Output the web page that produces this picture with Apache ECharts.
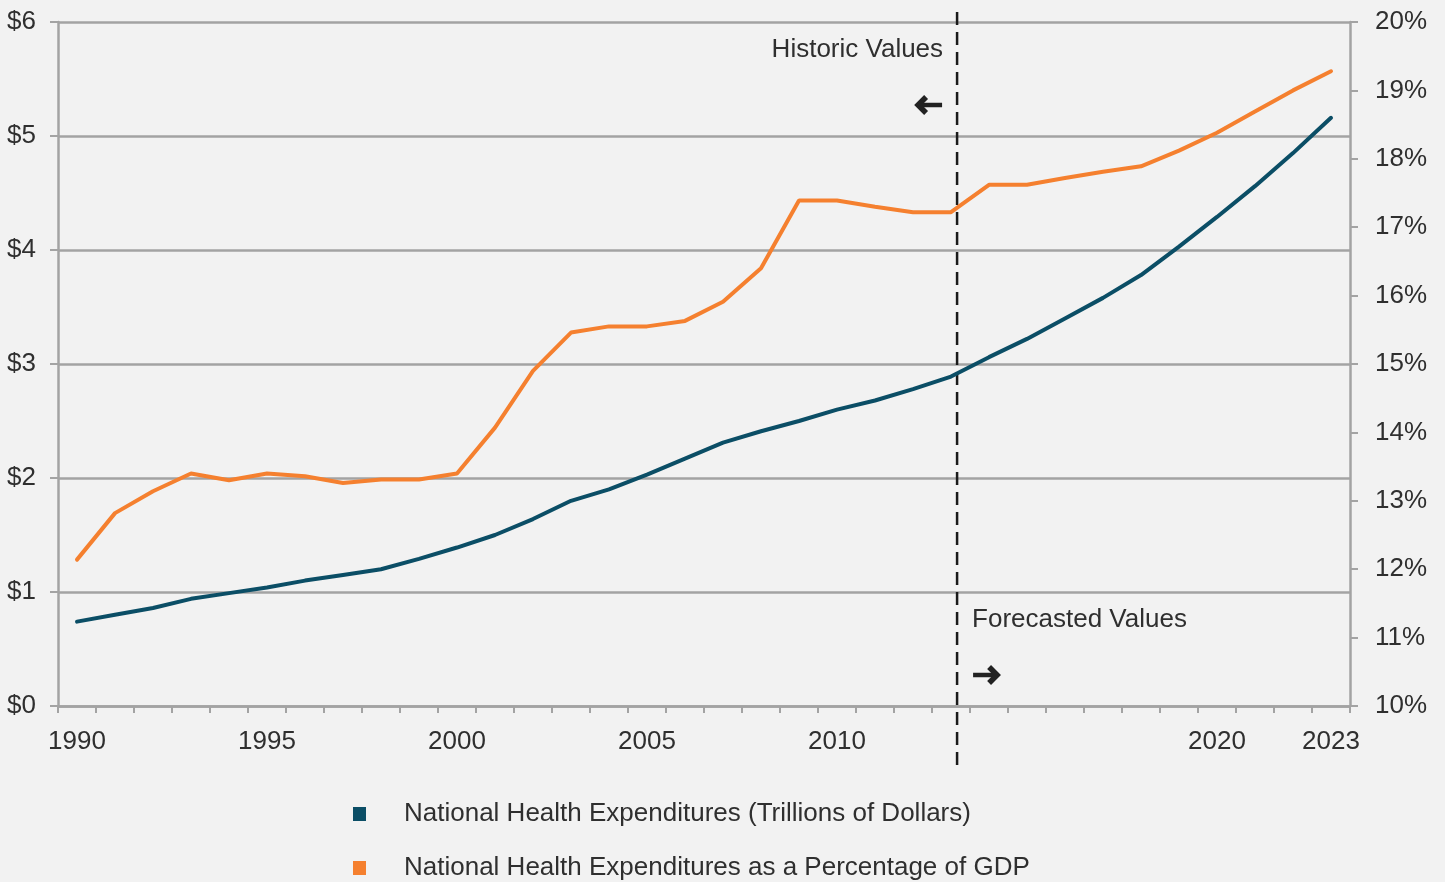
<!DOCTYPE html>
<html>
<head>
<meta charset="utf-8">
<style>
  html, body { margin: 0; padding: 0; background: #f2f2f2; }
  #chart { width: 1445px; height: 882px; }
</style>
<script src="https://cdn.jsdelivr.net/npm/echarts@6/dist/echarts.min.js"></script>
</head>
<body>
<div id="chart"></div>
<script>
const years = ['1990','1991','1992','1993','1994','1995','1996','1997','1998','1999',
  '2000','2001','2002','2003','2004','2005','2006','2007','2008','2009',
  '2010','2011','2012','2013','2014','2015','2016','2017','2018','2019',
  '2020','2021','2022','2023'];
const shownYearLabels = ['1990','1995','2000','2005','2010','2020','2023'];
const nheTrillions = [0.74,0.80,0.86,0.94,0.99,1.04,1.10,1.15,1.20,1.29,
  1.39,1.50,1.64,1.80,1.90,2.03,2.17,2.31,2.41,2.50,
  2.60,2.68,2.78,2.89,3.06,3.22,3.40,3.58,3.78,4.03,
  4.29,4.56,4.85,5.16];
const nhePctGdp = [12.14,12.82,13.14,13.40,13.30,13.40,13.36,13.26,13.31,13.31,
  13.40,14.07,14.90,15.46,15.55,15.55,15.63,15.91,16.40,17.39,
  17.39,17.30,17.22,17.22,17.62,17.62,17.72,17.81,17.89,18.12,
  18.38,18.69,19.00,19.28];
const seriesNames = ['National Health Expenditures (Trillions of Dollars)',
  'National Health Expenditures as a Percentage of GDP'];
const leftTicks = {min: 0, max: 6, interval: 1};
const rightTicks = {min: 10, max: 20, interval: 1};
const splitIndex = 23.16;

const FONT = '"Liberation Sans", Arial, Helvetica, sans-serif';
const FS = 26;
const TXT = '#2f2f2f';
const AX = '#a3a3a3';
const NAVY = '#0b4e66';
const ORANGE = '#f5802f';

function legendFor(name, top) {
  return {
    orient: 'horizontal', left: 353, top: top, padding: 0,
    itemWidth: 13, itemHeight: 14, icon: 'rect',
    textStyle: { fontSize: FS, color: TXT, fontFamily: FONT, padding: [0, 0, 0, 33] },
    data: [name]
  };
}

const chart = echarts.init(document.getElementById('chart'));
const option = {
  backgroundColor: '#f2f2f2',
  animation: false,
  textStyle: { fontFamily: FONT },
  grid: { left: 58, right: 95, top: 22, bottom: 176, containLabel: false },
  legend: [legendFor(seriesNames[0], 801), legendFor(seriesNames[1], 855)],
  xAxis: {
    type: 'category',
    data: years,
    boundaryGap: true,
    axisLine: { lineStyle: { color: AX, width: 2.5 } },
    axisTick: { show: true, interval: 0, length: 7, lineStyle: { color: AX, width: 2 } },
    axisLabel: {
      interval: 0,
      formatter: function (v) { return shownYearLabels.indexOf(v) >= 0 ? v : ''; },
      fontSize: FS, color: TXT, margin: 23, fontFamily: FONT
    },
    splitLine: { show: false }
  },
  yAxis: [
    {
      type: 'value', min: leftTicks.min, max: leftTicks.max, interval: leftTicks.interval,
      position: 'left',
      axisLine: { show: true, lineStyle: { color: AX, width: 2.5 } },
      axisTick: { show: true, length: 8, lineStyle: { color: AX, width: 2 } },
      axisLabel: { formatter: '${value}', fontSize: FS, color: TXT, margin: 22, fontFamily: FONT, padding: [6, 0, 0, 0] },
      splitLine: { show: true, lineStyle: { color: AX, width: 2.5 } }
    },
    {
      type: 'value', min: rightTicks.min, max: rightTicks.max, interval: rightTicks.interval,
      position: 'right',
      axisLine: { show: true, lineStyle: { color: AX, width: 2.5 } },
      axisTick: { show: true, length: 8, lineStyle: { color: AX, width: 2 } },
      axisLabel: { formatter: '{value}%', fontSize: FS, color: TXT, margin: 25, fontFamily: FONT, padding: [6, 0, 0, 0] },
      splitLine: { show: false }
    }
  ],
  series: [
    {
      name: seriesNames[0],
      type: 'line', yAxisIndex: 0, data: nheTrillions,
      symbol: 'none', lineStyle: { color: NAVY, width: 4, cap: 'round' }, itemStyle: { color: NAVY }
    },
    {
      name: seriesNames[1],
      type: 'line', yAxisIndex: 1, data: nhePctGdp,
      symbol: 'none', lineStyle: { color: ORANGE, width: 4, cap: 'round' }, itemStyle: { color: ORANGE }
    }
  ]
};
chart.setOption(option);

const x23 = chart.convertToPixel({ xAxisIndex: 0 }, 23);
const x24 = chart.convertToPixel({ xAxisIndex: 0 }, 24);
const sx = x23 + (splitIndex - 23) * (x24 - x23);
const yTop = chart.convertToPixel({ yAxisIndex: 0 }, 6) - 10;
const yBot = chart.convertToPixel({ yAxisIndex: 0 }, 0) + 59;

function arrow(cx, cy, dir) {
  const half = 12;
  const tipX = cx + dir * half;
  return [
    { type: 'line', shape: { x1: cx - dir * half, y1: cy, x2: tipX - dir * 3, y2: cy },
      style: { stroke: '#222', lineWidth: 4.5 } },
    { type: 'polyline', shape: { points: [[tipX - dir * 8, cy - 8], [tipX, cy], [tipX - dir * 8, cy + 8]] },
      style: { stroke: '#222', lineWidth: 5.5, fill: null, lineJoin: 'miter' } }
  ];
}

chart.setOption({
  graphic: [
    { type: 'line', shape: { x1: sx, y1: yTop, x2: sx, y2: yBot },
      style: { stroke: '#1a1a1a', lineWidth: 2.5, lineDash: [13, 7] } },
    { type: 'text', x: sx - 14, y: 50,
      style: { text: 'Historic Values', fontSize: FS, fill: TXT, fontFamily: FONT, align: 'right', verticalAlign: 'middle' } },
    { type: 'text', x: sx + 15, y: 620,
      style: { text: 'Forecasted Values', fontSize: FS, fill: TXT, fontFamily: FONT, align: 'left', verticalAlign: 'middle' } }
  ].concat(arrow(sx - 27, 105, -1)).concat(arrow(sx + 28, 675, 1))
});
</script>
</body>
</html>
